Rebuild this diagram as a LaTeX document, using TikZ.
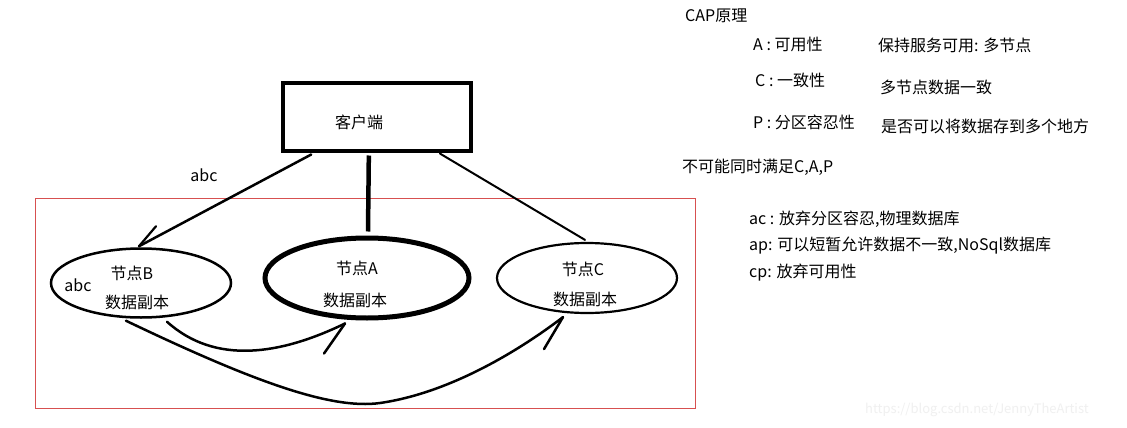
\documentclass[tikz,border=0pt]{standalone}
\usepackage{fontspec}
\setmainfont{Noto Sans CJK SC}
\usetikzlibrary{shapes.geometric,calc}
\definecolor{boxred}{RGB}{215,80,80}
\definecolor{wm}{RGB}{240,240,240}
\begin{document}
\begin{tikzpicture}[x=1pt,y=-1pt,
  txt/.style={font=\fontsize{16}{19}\selectfont, inner sep=0pt},
  lt/.style={txt, anchor=west},
  ell/.style={draw, ellipse, inner sep=0pt},
  conn/.style={line cap=round, line join=round}]
\useasboundingbox[fill=white] (0,0) rectangle (1127,428);

% red frame
\draw[boxred, line width=1pt] (35,198) rectangle (695,408);

% client
\node[draw, line width=4pt, minimum width=188pt, minimum height=68pt, inner sep=0pt] (client) at (376.5,116.5) {};
\node[txt] (clientT) at (359,122) {客户端};

% ellipses
\node[ell, line width=2.5pt, minimum width=180pt, minimum height=69pt] (B) at (141,283) {};
\node[ell, line width=5pt, minimum width=204pt, minimum height=80pt] (A) at (367,278) {};
\node[ell, line width=2.2pt, minimum width=180pt, minimum height=70pt] (C) at (587,278) {};

\node[txt] (Bt1) at (132,273) {节点B};
\node[txt] (Bt2) at (137,302) {数据副本};
\node[txt] (Babc) at (78,285) {abc};
\node[txt] (At1) at (357,268) {节点A};
\node[txt] (At2) at (355,300) {数据副本};
\node[txt] (Ct1) at (583,269) {节点C};
\node[txt] (Ct2) at (585,299) {数据副本};

\node[txt] (abc) at (204,175) {abc};

% client connectors
\coordinate (cB) at ($(client.south west)!0.16!(client.south east)+(0,2)$);
\coordinate (cA) at ($(client.south west)!0.46!(client.south east)+(0,3)$);
\coordinate (cC) at ($(client.south west)!0.83!(client.south east)+(0,1)$);
\coordinate (tB) at ($(B.north)+(-2,-1)$);
\coordinate (tA) at ($(A.north)+(1,-4)$);
\coordinate (tC) at ($(C.north)+(-2,-2)$);
\draw[conn, line width=2.5pt] (cB) -- (tB);
\draw[conn, line width=2.2pt] (tB) -- ++(17,-20);
\draw[line width=4.5pt] (cA) -- (tA);
\draw[conn, line width=2pt] (cC) -- (tC);

% replication curves
\coordinate (b1) at ($(B.south)+(26,3)$);
\coordinate (b2) at ($(B.south)+(-15,2)$);
\coordinate (a1) at ($(A.south)+(-22,3)$);
\coordinate (c1) at ($(C.south)+(-24,3)$);
\draw[conn, line width=2.5pt] (b1) .. controls (215,365) and (280,355) .. (a1);
\draw[conn, line width=2.5pt] (a1) -- ++(-21,30);
\draw[conn, line width=2.5pt] (b2) .. controls (250,380) and (330,410) .. (380,403)
      .. controls (450,393) and (520,350) .. (c1);
\draw[conn, line width=2.5pt] (c1) -- ++(-19,32);

% right side text
\node[lt] (cap) at (685,16) {CAP原理};
\node[lt] (la) at (753,44) {A : 可用性};
\node[lt] (ra) at (878,45) {保持服务可用: 多节点};
\node[lt] (lc) at (755,80) {C : 一致性};
\node[lt] (rc) at (880,87) {多节点数据一致};
\node[lt] (lp) at (753,122) {P : 分区容忍性};
\node[lt] (rp) at (881,126) {是否可以将数据存到多个地方};
\node[lt] (imp) at (682,167) {不可能同时满足C,A,P};
\node[lt] (ac) at (749,219) {ac : 放弃分区容忍,物理数据库};
\node[lt] (ap) at (749,246) {ap: 可以短暂允许数据不一致,NoSql数据库};
\node[lt] (cp) at (749,273) {cp: 放弃可用性};

\node[lt, text=wm, font=\fontsize{13}{15}\selectfont] (wmk) at (865,410) {https://blog.csdn.net/JennyTheArtist};
\end{tikzpicture}
\end{document}
